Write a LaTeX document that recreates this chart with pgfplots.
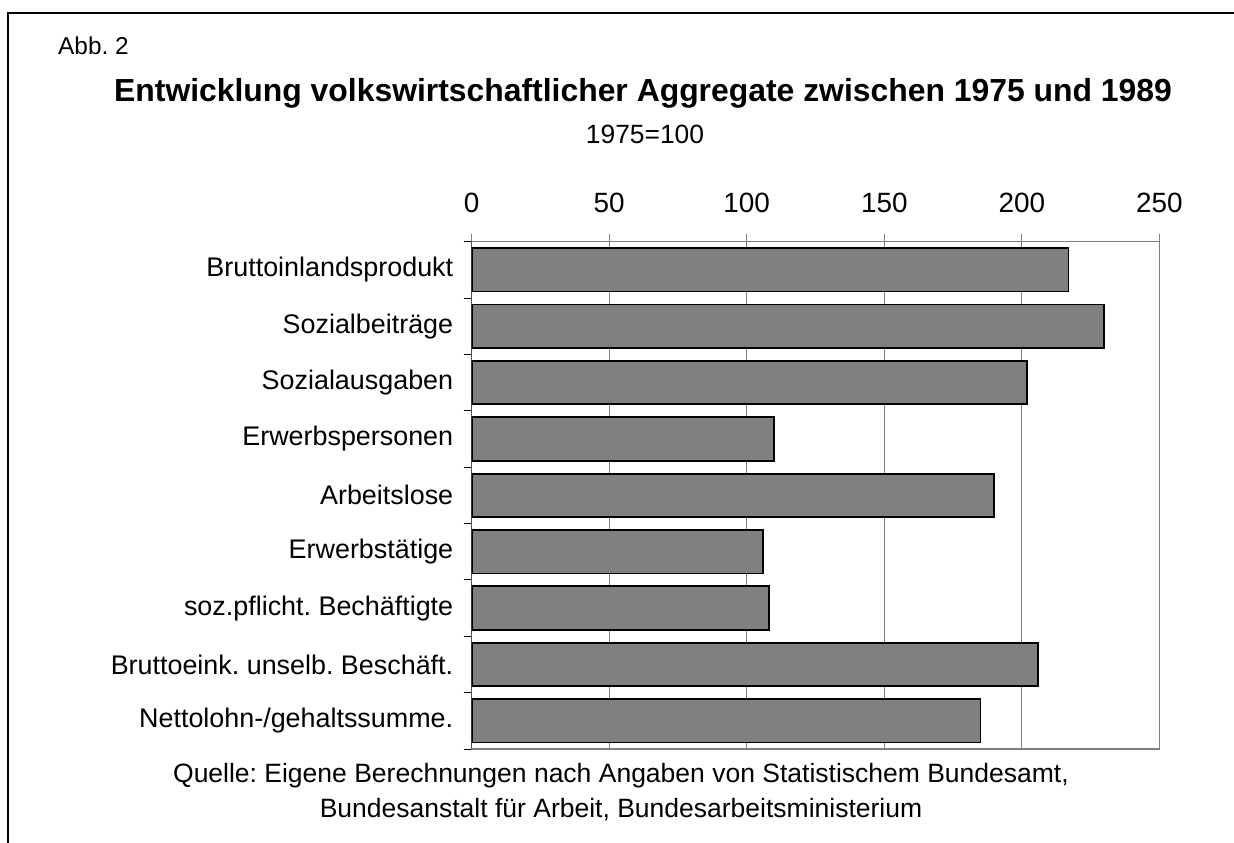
\documentclass[border=0pt]{standalone}
\usepackage{fontspec}
\setmainfont{Liberation Sans}
\usepackage{pgfplots}
\pgfplotsset{compat=1.18}
\definecolor{barfill}{RGB}{128,128,128}
\definecolor{gridgray}{RGB}{128,128,128}
\frenchspacing
\begin{document}
\frenchspacing
\begin{tikzpicture}[x=1bp,y=1bp]
\useasboundingbox (0,0) rectangle (1234,843);
% frame
\draw[line width=1.8bp,black] (8,-5) -- (8,830) -- (1240,830);
% texts
\node[anchor=base west,inner sep=0pt,font=\fontsize{24.5}{30}\selectfont] at (58,788) {Abb. 2};
\node[anchor=base,inner sep=0pt,font=\fontsize{32}{36}\selectfont\bfseries] at (643,741) {Entwicklung volkswirtschaftlicher Aggregate zwischen 1975 und 1989};
\node[anchor=base,inner sep=0pt,font=\fontsize{26.5}{30}\selectfont] at (645,699) {1975=100};
\node[anchor=base,inner sep=0pt,font=\fontsize{26.6}{30}\selectfont] at (621,60) {Quelle: Eigene Berechnungen nach Angaben von Statistischem Bundesamt,};
\node[anchor=base,inner sep=0pt,font=\fontsize{26.6}{30}\selectfont] at (621,25) {Bundesanstalt für Arbeit, Bundesarbeitsministerium};
\begin{axis}[
  at={(471.7bp,94bp)}, anchor=south west,
  scale only axis, width=687.6bp, height=507.3bp,
  xmin=0, xmax=250, ymin=-0.5, ymax=8.5,
  y dir=reverse,
  xbar, bar width=0.77,
  xtick={0,50,...,250},
  xtick pos=right, xticklabel pos=right,
  xmajorgrids, grid style={gridgray, line width=1bp},
  tick align=outside,
  major tick length=8bp,
  /pgf/number format/assume math mode=true,
  ticklabel style={font=\fontsize{28}{32}\selectfont},
  xticklabel style={anchor=base, yshift=21bp},
  x tick style={gridgray, line width=1bp},
  ytick={-0.5,0.5,...,8.5},
  yticklabels={},
  ytick pos=left,
  y tick style={black, line width=1bp},
  extra y ticks={0,1,2,3,4,5,6,7,8},
  extra y tick labels={Bruttoinlandsprodukt,Sozialbeiträge,Sozialausgaben,Erwerbspersonen,Arbeitslose,Erwerbstätige,soz.pflicht. Bechäftigte,Bruttoeink. unselb. Beschäft.,Nettolohn-/gehaltssumme.},
  extra y tick style={major tick length=0pt, yticklabel style={anchor=east, xshift=-15bp, font=\fontsize{27}{30}\selectfont}},
  axis line style={gridgray, line width=1.4bp},
]
\addplot[draw=black, line width=1.8bp, fill=barfill] coordinates {
(217,0) (230,1) (202,2) (110,3) (190,4) (106,5) (108,6) (206,7) (185,8)
};
\draw[black, line width=1.4bp] ([yshift=8bp]axis cs:0,-0.5) -- (axis cs:0,8.5);
\end{axis}
\end{tikzpicture}
\end{document}
